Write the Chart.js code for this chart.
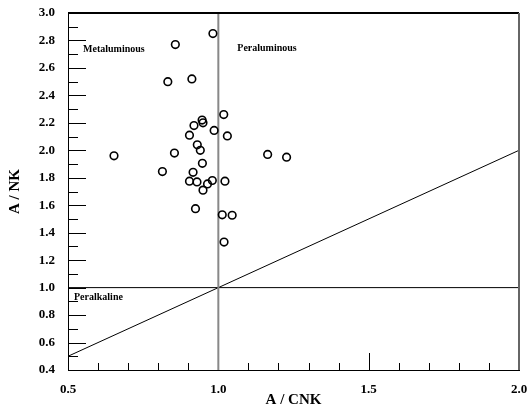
<!DOCTYPE html>
<html>
<head>
<meta charset="utf-8">
<script src="https://cdn.jsdelivr.net/npm/chart.js@4.4.1/dist/chart.umd.min.js"></script>
<style>
  html, body { margin: 0; padding: 0; background: #fff; }
  #wrap { width: 529px; height: 408px; position: relative; }
</style>
</head>
<body>
<div id="wrap"><canvas id="myChart"></canvas></div>
<script>
// sample points: A/CNK vs A/NK
const acnk = [0.982, 0.857, 0.832, 0.912, 1.018, 0.946, 0.949, 0.919, 0.986, 0.904,
  1.030, 0.930, 0.940, 0.653, 0.854, 1.164, 1.227, 0.947, 0.814, 0.916,
  0.904, 0.929, 0.964, 0.980, 0.949, 1.022, 0.924, 1.013, 1.046, 1.019];
const ank = [2.85, 2.77, 2.50, 2.52, 2.26, 2.22, 2.20, 2.18, 2.145, 2.11,
  2.105, 2.04, 2.00, 1.96, 1.98, 1.97, 1.95, 1.905, 1.845, 1.84,
  1.775, 1.77, 1.755, 1.78, 1.71, 1.775, 1.575, 1.53, 1.527, 1.332];

// divider lines
const acnkLine = [1.0, 1.0];
const ankLine = [0.4, 3.0];
const horizX = [0.5, 2.0];
const horizY = [1.0, 1.0];
const diagX = [0.5, 2.0];
const diagY = [0.5, 2.0];

const xTicks = [0.5, 1.0, 1.5, 2.0];
const yTicks = [0.4, 0.6, 0.8, 1.0, 1.2, 1.4, 1.6, 1.8, 2.0, 2.2, 2.4, 2.6, 2.8, 3.0];

const fieldNames = ['Metaluminous', 'Peraluminous', 'Peralkaline'];
const fieldX = [0.55, 1.063, 0.52];
const fieldY = [2.738, 2.745, 0.932];

const serif = '"Liberation Serif", "DejaVu Serif", serif';
const pts = (xs, ys) => xs.map((x, i) => ({x: x, y: ys[i]}));

// inside ticks, frame and field names
const extras = {
  id: 'extras',
  afterDatasetsDraw(chart){
    const {ctx, chartArea: a, scales: {x, y}} = chart;
    ctx.save();
    ctx.strokeStyle = '#000';
    ctx.lineWidth = 1;
    for (let i = 4; i <= 30; i++){
      const py = Math.round(y.getPixelForValue(i / 10)) + 0.5;
      const len = i % 2 === 0 ? 18 : 10;
      ctx.beginPath();
      ctx.moveTo(a.left, py);
      ctx.lineTo(a.left + len, py);
      ctx.stroke();
    }
    for (let i = 6; i < 20; i++){
      if (i === 10) continue;
      const px = Math.round(x.getPixelForValue(i / 10)) + 0.5;
      const len = i === 15 ? 17 : 7;
      ctx.beginPath();
      ctx.moveTo(px, a.bottom);
      ctx.lineTo(px, a.bottom - len);
      ctx.stroke();
    }
    // frame top / right
    ctx.lineWidth = 2;
    ctx.beginPath();
    ctx.moveTo(a.left, a.top);
    ctx.lineTo(a.right, a.top);
    ctx.stroke();
    ctx.strokeStyle = '#666';
    ctx.beginPath();
    ctx.moveTo(a.right, a.top);
    ctx.lineTo(a.right, a.bottom);
    ctx.stroke();

    ctx.fillStyle = '#000';
    ctx.font = 'bold 10px ' + serif;
    ctx.textBaseline = 'middle';
    ctx.textAlign = 'left';
    fieldNames.forEach((t, i) => {
      ctx.fillText(t, x.getPixelForValue(fieldX[i]), y.getPixelForValue(fieldY[i]));
    });
    ctx.restore();
  }
};

const ctx = document.getElementById('myChart').getContext('2d');
const myChart = new Chart(ctx, {
  type: 'scatter',
  data: {
    datasets: [
      {
        data: pts(acnk, ank),
        pointStyle: 'circle',
        pointRadius: 3.8,
        borderWidth: 1.6,
        borderColor: '#000',
        backgroundColor: 'rgba(255,255,255,0)',
        order: 0
      },
      {
        data: pts(acnkLine, ankLine),
        showLine: true, pointRadius: 0,
        borderColor: '#888', borderWidth: 2, order: 1
      },
      {
        data: pts(horizX, horizY),
        showLine: true, pointRadius: 0,
        borderColor: '#000', borderWidth: 1, order: 1
      },
      {
        data: pts(diagX, diagY),
        showLine: true, pointRadius: 0,
        borderColor: '#000', borderWidth: 1, order: 1
      }
    ]
  },
  options: {
    responsive: true,
    maintainAspectRatio: false,
    animation: false,
    layout: { padding: { top: 13, right: 10, left: 0, bottom: 0 } },
    plugins: { legend: { display: false }, tooltip: { enabled: false } },
    scales: {
      x: {
        type: 'linear',
        min: 0.5, max: 2.0,
        afterBuildTicks: s => { s.ticks = xTicks.map(v => ({value: v})); },
        afterFit: s => { s.height = 38; s.paddingLeft = 0; s.paddingRight = 0; },
        grid: { display: false, drawTicks: false },
        border: { display: true, color: '#000', width: 1 },
        ticks: {
          padding: 12, color: '#000',
          font: { family: serif, size: 13, weight: 'bold' },
          callback: v => v.toFixed(1)
        },
        title: {
          display: true, text: 'A / CNK', color: '#000',
          font: { family: serif, size: 15, weight: 'bold', lineHeight: 1 },
          padding: { top: 0, bottom: 0 }
        }
      },
      y: {
        type: 'linear',
        min: 0.4, max: 3.0,
        afterBuildTicks: s => { s.ticks = yTicks.map(v => ({value: v})); },
        afterFit: s => { s.width = 68; s.paddingTop = 0; s.paddingBottom = 0; },
        grid: { display: false, drawTicks: false },
        border: { display: true, color: '#000', width: 1 },
        ticks: {
          padding: 13, color: '#000',
          font: { family: serif, size: 13, weight: 'bold' },
          callback: v => v.toFixed(1)
        },
        title: {
          display: true, text: 'A / NK', color: '#000',
          font: { family: serif, size: 15, weight: 'bold', lineHeight: 1 },
          padding: { top: 8, bottom: 0 }
        }
      }
    }
  },
  plugins: [extras]
});
</script>
</body>
</html>
